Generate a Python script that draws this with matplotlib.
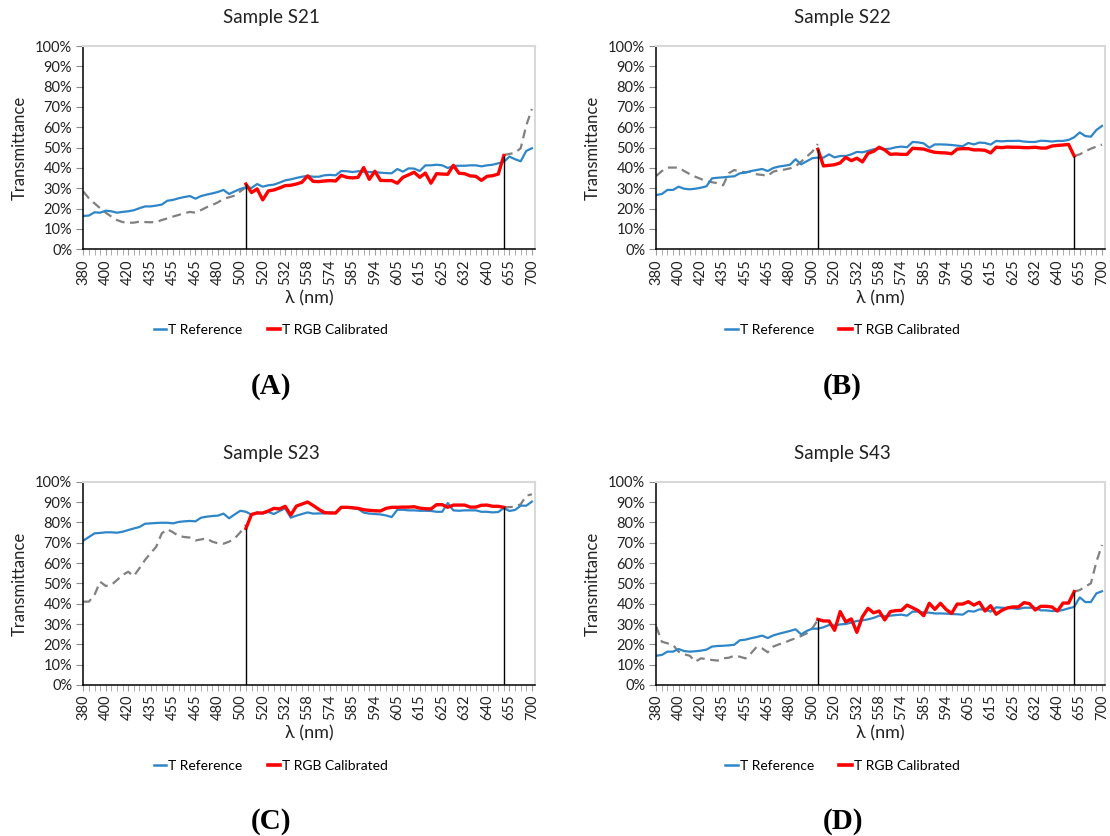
import matplotlib
matplotlib.use("Agg")
import matplotlib.pyplot as plt
from matplotlib.lines import Line2D
import numpy as np

plt.rcParams['font.family'] = ['Lato', 'DejaVu Sans']

# x axis: 81 wavelength samples, every 4th one labelled
wl_labels = ["380", "400", "420", "435", "455", "465", "480", "500", "520", "532",
             "558", "574", "585", "594", "605", "615", "625", "632", "640", "655", "700"]
n_points = 81
label_step = 4
cal_start = 29   # ~505 nm
cal_end = 75     # ~650 nm

# Sample S21
ref_s21 = [16.4, 16.6, 18.2, 18.0, 19.0, 18.7, 18.0, 18.4, 18.7, 19.2,
           20.2, 21.1, 21.1, 21.5, 22.0, 23.9, 24.3, 25.1, 25.7, 26.2,
           24.9, 26.2, 26.9, 27.5, 28.2, 29.2, 27.2, 28.5, 29.7, 30.5,
           30.2, 32.1, 30.8, 31.5, 31.8, 32.8, 33.9, 34.4, 35.1, 35.7,
           36.1, 35.7, 35.7, 36.4, 36.6, 36.4, 38.5, 38.4, 38.0, 38.4,
           38.2, 38.0, 38.0, 37.7, 37.5, 37.4, 39.5, 38.2, 39.8, 39.7,
           38.5, 41.3, 41.3, 41.6, 41.3, 40.0, 41.0, 41.1, 41.1, 41.3,
           41.3, 40.8, 41.3, 41.6, 42.3, 43.0, 45.6, 44.3, 43.3, 48.4,
           49.7]
cal_s21 = [32.1, 27.9, 29.7, 24.3, 28.7, 29.2, 30.2, 31.3, 31.5, 32.1,
           33.0, 36.1, 33.4, 33.3, 33.6, 33.8, 33.6, 36.4, 35.4, 35.1,
           35.4, 40.2, 34.4, 38.4, 33.9, 33.8, 33.8, 32.5, 35.4, 36.6,
           37.9, 35.4, 37.5, 32.5, 37.2, 37.0, 36.9, 41.3, 37.4, 37.2,
           36.1, 35.9, 33.9, 35.9, 36.2, 37.0, 46.1]
rgb_low_s21 = [28.4, 25.1, 22.6, 20.2, 18.0, 16.1, 14.4, 13.4, 13.1, 13.1,
               13.6, 13.4, 13.3, 13.4, 14.4, 15.2, 16.1, 16.9, 17.7, 18.4,
               18.0, 19.3, 20.7, 21.8, 23.1, 24.8, 25.6, 26.4, 28.5, 30.5]
rgb_high_s21 = [46.4, 46.9, 47.5, 49.7, 61.0, 69.0]

# Sample S22
ref_s22 = [26.7, 27.2, 29.2, 29.2, 30.8, 29.8, 29.5, 29.8, 30.3, 31.0,
           34.9, 35.2, 35.4, 35.7, 35.9, 37.4, 37.7, 38.5, 39.0, 39.5,
           38.5, 40.0, 40.7, 41.1, 41.6, 44.3, 41.8, 43.3, 44.8, 45.1,
           45.1, 46.7, 45.2, 45.9, 45.9, 46.7, 47.9, 47.7, 48.4, 49.2,
           49.5, 49.3, 49.5, 50.2, 50.5, 50.2, 52.8, 52.6, 52.1, 50.0,
           51.6, 51.6, 51.5, 51.3, 51.0, 50.7, 52.3, 51.6, 52.5, 52.3,
           51.5, 53.3, 53.1, 53.3, 53.3, 53.4, 53.0, 52.8, 52.8, 53.4,
           53.3, 53.0, 53.3, 53.3, 53.8, 55.1, 57.5, 55.7, 55.4, 58.7,
           60.7]
cal_s22 = [49.2, 41.0, 41.3, 41.6, 42.5, 45.2, 43.6, 44.8, 43.0, 47.2,
           48.2, 50.2, 48.9, 46.7, 46.9, 46.7, 46.7, 49.7, 49.5, 49.3,
           48.4, 47.7, 47.5, 47.4, 47.0, 49.3, 49.5, 49.5, 48.9, 48.9,
           48.7, 47.4, 50.2, 50.0, 50.3, 50.2, 50.2, 50.0, 50.0, 50.2,
           49.8, 49.8, 50.8, 51.1, 51.3, 51.6, 45.9]
rgb_low_s22 = [36.1, 38.5, 40.2, 40.2, 40.2, 38.5, 37.0, 35.7, 34.6, 33.4,
               33.0, 32.5, 31.5, 37.4, 39.0, 38.2, 37.9, 38.2, 36.9, 36.6,
               36.1, 38.2, 38.9, 39.2, 39.8, 40.8, 43.1, 45.6, 48.0, 51.8]
rgb_high_s22 = [45.9, 46.7, 48.2, 49.5, 50.5, 51.5]

# Sample S23
ref_s23 = [71.0, 72.8, 74.6, 74.8, 75.1, 75.1, 74.9, 75.4, 76.2, 77.0,
           77.7, 79.3, 79.5, 79.7, 79.8, 79.8, 79.5, 80.2, 80.5, 80.7,
           80.5, 82.3, 82.8, 83.1, 83.3, 84.3, 82.0, 83.9, 85.7, 85.2,
           83.8, 84.9, 84.4, 85.1, 84.1, 85.6, 86.9, 82.3, 83.3, 84.1,
           84.9, 84.3, 84.4, 84.4, 84.9, 84.6, 87.4, 87.2, 87.0, 86.6,
           84.8, 84.3, 84.1, 83.9, 83.4, 82.6, 86.2, 86.2, 85.9, 85.9,
           85.7, 85.7, 85.6, 85.2, 85.2, 89.5, 85.9, 85.7, 85.9, 85.9,
           85.9, 85.2, 85.2, 84.9, 85.1, 87.0, 85.6, 86.1, 88.2, 88.2,
           90.2]
cal_s23 = [77.0, 83.9, 84.6, 84.6, 85.6, 86.9, 86.6, 87.9, 83.6, 88.0,
           89.0, 90.0, 88.3, 86.4, 84.8, 84.6, 84.6, 87.4, 87.4, 87.2,
           86.9, 86.2, 85.9, 85.7, 85.6, 86.9, 87.4, 87.4, 87.5, 87.5,
           87.7, 87.0, 86.7, 86.6, 88.7, 88.7, 87.4, 88.5, 88.5, 88.5,
           87.5, 87.5, 88.4, 88.5, 87.9, 87.9, 87.4]
rgb_low_s23 = [41.0, 41.0, 44.3, 50.8, 48.7, 49.2, 51.6, 54.1, 55.7, 53.6,
               57.4, 61.5, 64.8, 68.0, 74.6, 76.6, 75.1, 73.3, 72.8, 72.5,
               71.1, 71.6, 72.1, 70.5, 69.7, 69.5, 70.5, 72.1, 75.1, 78.7]
rgb_high_s23 = [87.4, 87.5, 87.7, 88.9, 93.1, 93.8]

# Sample S43
ref_s43 = [14.4, 14.8, 16.4, 16.4, 17.7, 16.7, 16.4, 16.6, 16.9, 17.4,
           18.9, 19.2, 19.3, 19.5, 19.8, 22.0, 22.3, 23.0, 23.6, 24.3,
           23.1, 24.4, 25.2, 25.9, 26.6, 27.4, 24.9, 26.6, 27.7, 27.7,
           28.4, 29.5, 29.3, 29.8, 30.0, 30.7, 31.5, 31.8, 32.3, 33.0,
           34.1, 33.8, 34.1, 34.4, 34.6, 34.1, 36.1, 36.1, 35.7, 35.6,
           35.2, 35.2, 35.1, 34.9, 34.8, 34.6, 36.4, 36.1, 37.2, 37.2,
           36.1, 38.2, 38.0, 37.9, 37.7, 37.4, 38.0, 38.0, 38.0, 36.7,
           36.7, 36.4, 36.4, 36.9, 37.7, 38.4, 43.1, 40.8, 40.8, 45.1,
           46.1]
cal_s43 = [32.3, 31.5, 31.5, 26.9, 36.1, 31.1, 32.5, 25.9, 33.6, 37.7,
           35.5, 36.4, 32.0, 36.1, 36.6, 36.7, 39.3, 38.0, 36.6, 34.1,
           40.2, 37.2, 40.2, 37.2, 35.2, 39.8, 39.8, 41.0, 39.3, 40.7,
           36.4, 39.0, 34.8, 36.7, 37.9, 38.4, 38.4, 40.5, 40.0, 36.9,
           38.7, 38.7, 38.4, 36.4, 40.3, 40.3, 45.9]
rgb_low_s43 = [28.7, 21.3, 20.5, 19.7, 16.4, 15.1, 14.4, 11.5, 13.1, 12.8,
               12.3, 12.0, 13.1, 13.4, 14.4, 13.9, 13.1, 15.6, 18.7, 18.0,
               16.1, 18.9, 20.0, 20.8, 22.0, 23.0, 24.1, 25.4, 27.9, 32.0]
rgb_high_s43 = [45.9, 46.7, 48.4, 50.0, 60.7, 68.9]

titles = ["Sample S21", "Sample S22", "Sample S23", "Sample S43"]
letters = ["A", "B", "C", "D"]

BLUE = "#2E86C8"
RED = "#FF0000"
GRAY = "#808080"
W, H = 1110, 836


def fx(x):
    return x / W


def fy(y):
    return 1 - y / H


def draw_panel(left, top, ax_w, ref, cal, low, high, title, letter):
    ax_h = 203.3
    ax = fig.add_axes([fx(left), fy(top + ax_h), ax_w / W, ax_h / H])
    idx = np.arange(n_points)
    ax.plot(idx[:cal_start + 1], low, color=GRAY, lw=1.6, ls=(0, (4, 2.5)))
    ax.plot(idx[cal_end:], high, color=GRAY, lw=1.6, ls=(0, (4, 2.5)))
    ax.plot(idx, ref, color=BLUE, lw=1.6)
    ax.plot(idx[cal_start:cal_end + 1], cal, color=RED, lw=2.4)
    ax.vlines([cal_start, cal_end], 0, [cal[0], cal[-1]], color="black", lw=1)

    ax.set_xlim(0, 80.5)
    ax.set_ylim(0, 100)
    ax.set_yticks(np.arange(0, 101, 10))
    ax.set_yticklabels([f"{v}%" for v in range(0, 101, 10)])
    ax.set_xticks(idx[::label_step])
    ax.set_xticklabels(wl_labels, rotation=90)
    ax.set_xticks(idx, minor=True)
    ax.tick_params(axis="y", length=5, color="#8c8c8c", labelsize=10.5,
                   labelcolor="#222222", pad=3)
    ax.tick_params(axis="x", which="both", length=4, color="#a0a0a0",
                   labelsize=10.5, labelcolor="#222222", pad=3)
    for s in ("left", "bottom"):
        ax.spines[s].set_color("black")
        ax.spines[s].set_linewidth(1.1)
    for s in ("top", "right"):
        ax.spines[s].set_color("#d9d9d9")
        ax.spines[s].set_linewidth(1.5)

    cx = left + ax_w / 2
    fig.text(fx(cx - 38), fy(top - 28), title, ha="center", va="center",
             fontsize=13.5, color="#222222")
    fig.text(fx(left - 64), fy(top + 102), "Transmittance", rotation=90,
             ha="center", va="center", fontsize=12, color="#222222")
    fig.text(fx(cx), fy(top + 252), "λ (nm)", ha="center", va="center",
             fontsize=13, color="#222222")
    handles = [Line2D([], [], color=BLUE, lw=1.8), Line2D([], [], color=RED, lw=2.6)]
    fig.legend(handles, ["T Reference", "T RGB Calibrated"], loc="center",
               bbox_to_anchor=(fx(cx - 38), fy(top + 284)), ncol=2, frameon=False,
               fontsize=10, handlelength=0.9, handletextpad=0.15, columnspacing=1.8)
    fig.text(fx(cx - 38), fy(top + 340), "(" + letter + ")", ha="center",
             va="center", fontsize=21, fontweight="bold",
             fontfamily="Liberation Serif", color="black")
    return ax


fig = plt.figure(figsize=(W / 100, H / 100), dpi=100)

draw_panel(83.3, 46, 451.4, ref_s21, cal_s21, rgb_low_s21, rgb_high_s21, titles[0], letters[0])
draw_panel(656.3, 46, 448.5, ref_s22, cal_s22, rgb_low_s22, rgb_high_s22, titles[1], letters[1])
draw_panel(83.3, 481.7, 451.4, ref_s23, cal_s23, rgb_low_s23, rgb_high_s23, titles[2], letters[2])
draw_panel(656.3, 481.7, 448.5, ref_s43, cal_s43, rgb_low_s43, rgb_high_s43, titles[3], letters[3])

fig.savefig("out.png", dpi=100)
